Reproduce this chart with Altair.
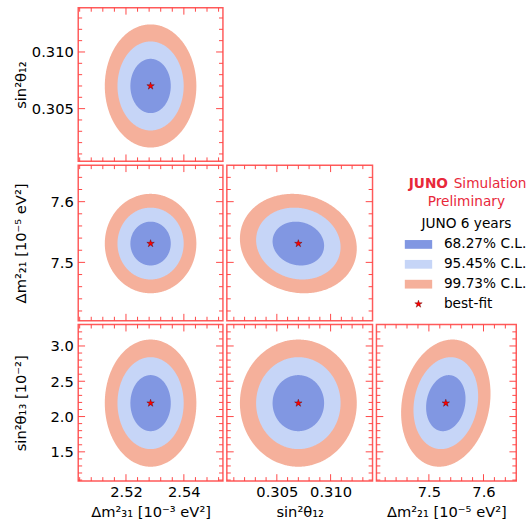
import altair as alt
import numpy as np
import pandas as pd

FONT = "DejaVu Sans"
FRAME = "#ff5a5a"
TICK = "#ff4545"
RED_TXT = "#e8283a"

# parameters: dm31 [1e-3 eV^2], sin2 t12, dm21 [1e-5 eV^2], sin2 t13 [1e-2]
param_names = ["dm31", "s12", "dm21", "s13"]
param_titles = ["Δm²₃₁ [10⁻³ eV²]", "sin²θ₁₂", "Δm²₂₁ [10⁻⁵ eV²]", "sin²θ₁₃ [10⁻²]"]
best_fit = [2.5285, 0.3070, 7.531, 2.19]
sigma = [0.0046, 0.00158, 0.0238, 0.262]
axis_lo = [2.5035, 0.30035, 7.404, 1.086]
axis_hi = [2.5535, 0.31390, 7.660, 3.303]
label_format = [".2f", ".3f", ".1f", ".1f"]

major_ticks = {
    "dm31": [2.52, 2.54],
    "s12": [0.305, 0.310],
    "dm21": [7.5, 7.6],
    "s13": [1.5, 2.0, 2.5, 3.0],
}
minor_ticks = {
    "dm31": [2.504, 2.508, 2.512, 2.516, 2.524, 2.528, 2.532, 2.536, 2.544, 2.548, 2.552],
    "s12": [0.301, 0.302, 0.303, 0.304, 0.306, 0.307, 0.308, 0.309, 0.311, 0.312, 0.313],
    "dm21": [7.42, 7.44, 7.46, 7.48, 7.52, 7.54, 7.56, 7.58, 7.62, 7.64],
    "s13": [1.1, 1.2, 1.3, 1.4, 1.6, 1.7, 1.8, 1.9, 2.1, 2.2, 2.3, 2.4,
            2.6, 2.7, 2.8, 2.9, 3.1, 3.2],
}

# correlation
pair_x = ["dm31", "dm31", "s12", "dm31", "s12", "dm21"]
pair_y = ["s12", "dm21", "dm21", "s13", "s13", "s13"]
pair_rho = [0.0, 0.0, -0.1, 0.0, 0.0, 0.15]

cl_labels = ["68.27% C.L.", "95.45% C.L.", "99.73% C.L."]
cl_chi2 = [2.30, 6.18, 11.83]
cl_colors = ["#8197e2", "#c6d5f7", "#f5b09b"]
bf_label = "best-fit"

col_w = [148, 149, 143]
row_h = [157, 159, 160]
TL_MAJ = 7
TL_MIN = 4

STAR = ("M0,-1L0.2245,-0.309L0.951,-0.309L0.3633,0.118L0.588,0.809L0,0.382"
        "L-0.588,0.809L-0.3633,0.118L-0.951,-0.309L-0.2245,-0.309Z")
RECT = "M-1,-0.32H1V0.32H-1Z"
STAR_STYLE = dict(shape=STAR, size=64, filled=True, fill="#ff0000",
                  stroke="#550000", strokeWidth=0.4, opacity=1)


def contour(ix, iy, rho, k, n=241):
    t = np.linspace(np.pi, 0, n)
    u = np.sqrt(k) * np.cos(t)
    r = np.sqrt(np.clip((1 - rho ** 2) * (k - u ** 2), 0, None))
    return pd.DataFrame({
        "x": best_fit[ix] + sigma[ix] * u,
        "hi": best_fit[iy] + sigma[iy] * (rho * u + r),
        "lo": best_fit[iy] + sigma[iy] * (rho * u - r),
    })


def panel(px, py, rho, w, h, show_x, show_y):
    ix = param_names.index(px)
    iy = param_names.index(py)
    xs = alt.Scale(domain=[axis_lo[ix], axis_hi[ix]], zero=False, nice=False)
    ys = alt.Scale(domain=[axis_lo[iy], axis_hi[iy]], zero=False, nice=False)
    if show_x:
        xax = alt.Axis(values=major_ticks[px], format=label_format[ix],
                       title=param_titles[ix], ticks=False, domain=False,
                       grid=False, labelPadding=4, titlePadding=5)
    else:
        xax = None
    if show_y:
        yax = alt.Axis(values=major_ticks[py], format=label_format[iy],
                       title=param_titles[iy], ticks=False, domain=False,
                       grid=False, labelPadding=5, minExtent=44, maxExtent=44,
                       titlePadding=7)
    else:
        yax = None

    def X(f):
        return alt.X(f, type="quantitative", scale=xs, axis=xax)

    def Y(f):
        return alt.Y(f, type="quantitative", scale=ys, axis=yax)

    layers = []
    for k, col in list(zip(cl_chi2, cl_colors))[::-1]:
        layers.append(
            alt.Chart(contour(ix, iy, rho, k)).mark_area(color=col, opacity=1)
            .encode(x=X("x"), y=Y("hi"), y2=alt.Y2("lo"))
        )
    bf = pd.DataFrame({"x": [best_fit[ix]], "y": [best_fit[iy]]})
    layers.append(
        alt.Chart(bf).mark_point(**STAR_STYLE).encode(x=X("x"), y=Y("y"))
    )
    for ticks, tl in ((minor_ticks, TL_MIN), (major_ticks, TL_MAJ)):
        dx = pd.DataFrame({"v": ticks[px]})
        dy = pd.DataFrame({"v": ticks[py]})
        rule = dict(color=TICK, strokeWidth=1)
        layers.append(alt.Chart(dy).mark_rule(**rule).encode(
            y=Y("v"), x=alt.value(0), x2=alt.value(tl)))
        layers.append(alt.Chart(dy).mark_rule(**rule).encode(
            y=Y("v"), x=alt.value(w - tl), x2=alt.value(w)))
        layers.append(alt.Chart(dx).mark_rule(**rule).encode(
            x=X("v"), y=alt.value(h - tl), y2=alt.value(h)))
        layers.append(alt.Chart(dx).mark_rule(**rule).encode(
            x=X("v"), y=alt.value(0), y2=alt.value(tl)))
    return alt.layer(*layers).properties(width=w, height=h)


def legend_panel(w, h):
    ysc = alt.Scale(domain=[0, 3], range=[81, 142])
    leg = pd.DataFrame({"label": cl_labels, "row": [0, 1, 2], "color": cl_colors})
    bfd = pd.DataFrame({"label": [bf_label], "row": [3]})
    alld = pd.DataFrame({"label": cl_labels + [bf_label], "row": [0, 1, 2, 3]})
    sw = alt.Chart(leg).mark_point(shape=RECT, size=784, filled=True, opacity=1,
                                   strokeWidth=0).encode(
        x=alt.value(44), y=alt.Y("row:Q", scale=ysc, axis=None),
        color=alt.Color("color:N", scale=None))
    st = alt.Chart(bfd).mark_point(**STAR_STYLE).encode(
        x=alt.value(44), y=alt.Y("row:Q", scale=ysc, axis=None))
    tx = alt.Chart(alld).mark_text(align="left", baseline="middle", font=FONT,
                                   fontSize=14, color="black").encode(
        x=alt.value(70), y=alt.Y("row:Q", scale=ysc, axis=None), text="label:N")

    def txt(s, x, y, **kw):
        return alt.Chart(pd.DataFrame({"t": [s]})).mark_text(
            font=FONT, fontSize=14, baseline="middle", **kw).encode(
            x=alt.value(x), y=alt.value(y), text="t:N")

    h1 = txt("JUNO", 34, 19, align="left", fontWeight="bold", color=RED_TXT)
    h2 = txt("Simulation", 80, 19, align="left", color=RED_TXT)
    h3 = txt("Preliminary", 93, 38, align="center", color=RED_TXT)
    h4 = txt("JUNO 6 years", 93, 60, align="center", color="black")
    return alt.layer(sw, st, tx, h1, h2, h3, h4).properties(
        width=w, height=h, view=alt.ViewBackground(stroke="transparent"))


p11 = panel("dm31", "s12", pair_rho[0], col_w[0], row_h[0], False, True)
p21 = panel("dm31", "dm21", pair_rho[1], col_w[0], row_h[1], False, True)
p22 = panel("s12", "dm21", pair_rho[2], col_w[1], row_h[1], False, False)
p31 = panel("dm31", "s13", pair_rho[3], col_w[0], row_h[2], True, True)
p32 = panel("s12", "s13", pair_rho[4], col_w[1], row_h[2], True, False)
p33 = panel("dm21", "s13", pair_rho[5], col_w[2], row_h[2], True, False)
leg = legend_panel(150, row_h[1])

row2 = alt.hconcat(p21, p22, leg, spacing=0)
row3 = alt.hconcat(p31, p32, p33, spacing=0)

chart = alt.vconcat(p11, row2, row3, spacing=0).properties(
    padding={"left": 13, "top": 0, "right": 0, "bottom": 0},
    background="white",
).configure_view(stroke=FRAME, strokeWidth=1.5).configure_axis(
    labelFont=FONT, titleFont=FONT, labelFontSize=15, titleFontSize=15,
    labelColor="black", titleColor="black", titleFontWeight="normal",
).configure_concat(spacing=0)

chart.save("out.html", embed_options={"renderer": "svg", "actions": False})
